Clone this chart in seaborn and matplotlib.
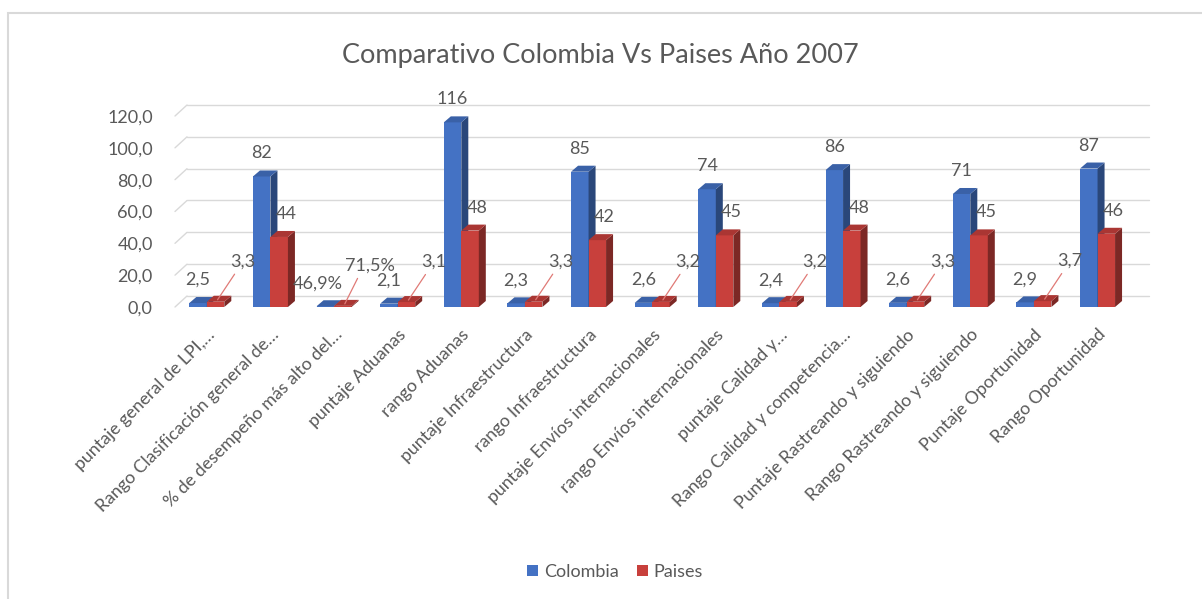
import numpy as np
import pandas as pd
import seaborn as sns
import matplotlib
matplotlib.use("Agg")
import matplotlib.pyplot as plt
from matplotlib.patches import Polygon, Rectangle, Patch
from matplotlib.lines import Line2D
import matplotlib.colors as mcolors

# ---- data -------------------------------------------------------------
indicadores = [
    "puntaje general de LPI,…",
    "Rango Clasificación general de…",
    "% de desempeño más alto del…",
    "puntaje Aduanas",
    "rango Aduanas",
    "puntaje Infraestructura",
    "rango Infraestructura",
    "puntaje Envíos internacionales",
    "rango Envíos internacionales",
    "puntaje Calidad y…",
    "Rango Calidad y competencia…",
    "Puntaje Rastreando y siguiendo",
    "Rango Rastreando y siguiendo",
    "Puntaje Oportunidad",
    "Rango Oportunidad",
]
colombia = [2.5, 82, 0.469, 2.1, 116, 2.3, 85, 2.6, 74, 2.4, 86, 2.6, 71, 2.9, 87]
paises = [3.3, 44, 0.715, 3.1, 48, 3.3, 42, 3.2, 45, 3.2, 48, 3.3, 45, 3.7, 46]
series = ["Colombia", "Paises"]
y_ticks = [0, 20, 40, 60, 80, 100, 120]
titulo = "Comparativo Colombia Vs Paises Año 2007"

# ---- style ------------------------------------------------------------
sns.set_theme(style="white")
plt.rcParams["font.family"] = ["Lato", "DejaVu Sans"]
GRAY_TXT = "#595959"
GRID = "#D9D9D9"
colors = {"Colombia": "#4472C4", "Paises": "#C8403C"}
LBL_FS = 13


def fmt_num(v, pct=False):
    if pct:
        return f"{v * 100:.1f}%".replace(".", ",")
    if v >= 10:
        return f"{v:.0f}"
    return f"{v:.1f}".replace(".", ",")


df = pd.DataFrame({
    "indicador": indicadores * 2,
    "serie": [series[0]] * len(indicadores) + [series[1]] * len(indicadores),
    "valor": colombia + paises,
})

W, H = 1202, 599
fig = plt.figure(figsize=(W / 100, H / 100), dpi=100)
ax_l, ax_r, ax_t, ax_b = 175, 1137, 116, 307
ax = fig.add_axes([ax_l / W, 1 - ax_b / H, (ax_r - ax_l) / W, (ax_b - ax_t) / H])

sns.barplot(data=df, x="indicador", y="valor", hue="serie",
            palette=colors, hue_order=series, order=indicadores,
            width=0.55, saturation=1, legend=False, ax=ax)

ax.set_xlim(-0.5, 14.62)
ax.set_ylim(0, 120)
for s in ax.spines.values():
    s.set_visible(False)
ax.set_xlabel("")
ax.set_ylabel("")

# pixel -> data unit conversions for the 3D depth effect
px_x = (ax.get_xlim()[1] - ax.get_xlim()[0]) / (ax_r - ax_l)
px_y = (ax.get_ylim()[1] - ax.get_ylim()[0]) / (ax_b - ax_t)
bar_dx, bar_dy = 7 * px_x, 6 * px_y
grid_dx, grid_dy = 12 * px_x, 11 * px_y

# back-wall gridlines with a slanted side-wall segment
x0, x1 = ax.get_xlim()
for v in y_ticks:
    ax.add_line(Line2D([x0, x0 + grid_dx], [v, v + grid_dy], color=GRID,
                       lw=1.0, zorder=0.5, clip_on=False))
    ax.add_line(Line2D([x0 + grid_dx, x1 + grid_dx], [v + grid_dy, v + grid_dy],
                       color=GRID, lw=1.0, zorder=0.5, clip_on=False))


def shade(c, f):
    r, g, b = mcolors.to_rgb(c)
    if f < 1:
        return (r * f, g * f, b * f)
    return (r + (1 - r) * (f - 1), g + (1 - g) * (f - 1), b + (1 - b) * (f - 1))


# side and top faces for each bar
for k, cont in enumerate(ax.containers):
    base_z = 2 + 2 * k
    col = colors[series[k]]
    for bar in cont:
        bar.set_zorder(base_z)
        bar.set_edgecolor("none")
        x, y, w, h = bar.get_x(), bar.get_y(), bar.get_width(), bar.get_height()
        side = Polygon([(x + w, y), (x + w + bar_dx, y + bar_dy),
                        (x + w + bar_dx, y + h + bar_dy), (x + w, y + h)],
                       closed=True, facecolor=shade(col, 0.62), edgecolor="none",
                       zorder=base_z + 0.5, clip_on=False)
        top = Polygon([(x, y + h), (x + w, y + h), (x + w + bar_dx, y + h + bar_dy),
                       (x + bar_dx, y + h + bar_dy)],
                      closed=True, facecolor=shade(col, 0.85), edgecolor="none",
                      zorder=base_z + 0.6, clip_on=False)
        ax.add_patch(side)
        ax.add_patch(top)

# data labels
for k, cont in enumerate(ax.containers):
    vals = colombia if k == 0 else paises
    for i, bar in enumerate(cont):
        v = vals[i]
        pct = indicadores[i].startswith("%")
        txt = fmt_num(v, pct)
        cx = bar.get_x() + bar.get_width() / 2
        top = bar.get_height()
        small = v < 10
        if k == 0:
            dxp = -8 if pct else 0
            ax.annotate(txt, (cx, top), xytext=(dxp, 15), textcoords="offset pixels",
                        ha="center", va="bottom", fontsize=LBL_FS, color=GRAY_TXT,
                        zorder=10)
        elif small:
            ax.annotate(txt, (cx + 2 * px_x, top + 2 * px_y), xytext=(25, 30),
                        textcoords="offset pixels", ha="center", va="bottom",
                        fontsize=LBL_FS, color=GRAY_TXT, zorder=10,
                        arrowprops=dict(arrowstyle="-", color="#E07A76", lw=0.9,
                                        shrinkA=1, shrinkB=0,
                                        relpos=(0.3, 0.0)))
        else:
            ax.annotate(txt, (cx, top), xytext=(7, 15), textcoords="offset pixels",
                        ha="center", va="bottom", fontsize=LBL_FS, color=GRAY_TXT,
                        zorder=10)

# axis ticks
ax.set_yticks(y_ticks)
ax.set_yticklabels([f"{t:.1f}".replace(".", ",") for t in y_ticks],
                   fontsize=LBL_FS, color=GRAY_TXT)
ax.set_xticks(range(len(indicadores)))
ax.set_xticklabels(indicadores, rotation=45, ha="right", rotation_mode="anchor",
                   fontsize=12.8, color=GRAY_TXT)
ax.tick_params(axis="x", length=0, pad=14)
ax.tick_params(axis="y", length=0, pad=16)

# title
fig.text(600 / W, 1 - 56 / H, titulo, ha="center", va="center",
         fontsize=19.5, color=GRAY_TXT)

# legend
handles = [Patch(facecolor=colors[s], edgecolor="none", label=s) for s in series]
fig.legend(handles=handles, loc="center", bbox_to_anchor=(615 / W, 1 - 572 / H),
           ncol=2, frameon=False, fontsize=LBL_FS, handlelength=0.6,
           handleheight=0.6, handletextpad=0.35, columnspacing=1.0,
           labelcolor=GRAY_TXT)

# chart border
fig.add_artist(Rectangle((8 / W, -0.05), 1.1, 1 - 13 / H + 0.05,
                         transform=fig.transFigure, fill=False,
                         edgecolor="#D9D9D9", lw=1.5))

fig.savefig("out.png", dpi=100, facecolor="white")
